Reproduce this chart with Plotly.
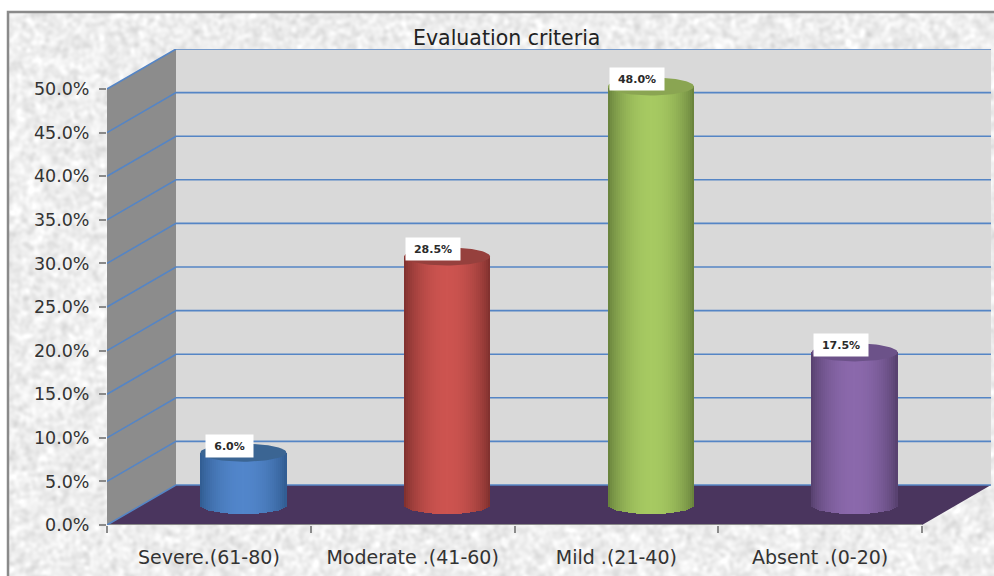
import base64, struct, zlib
import numpy as np
import plotly.graph_objects as go

# ---- data ----
categories = ["Severe.(61-80)", "Moderate .(41-60)", "Mild .(21-40)", "Absent .(0-20)"]
values = [6.0, 28.5, 48.0, 17.5]
value_labels = ["6.0%", "28.5%", "48.0%", "17.5%"]
y_ticks = [0, 5, 10, 15, 20, 25, 30, 35, 40, 45, 50]
y_tick_labels = ["0.0%", "5.0%", "10.0%", "15.0%", "20.0%", "25.0%", "30.0%", "35.0%", "40.0%", "45.0%", "50.0%"]
title_text = "Evaluation criteria"

# ---- styles ----
centre_colors = [(82, 134, 203), (205, 84, 80), (167, 202, 98), (139, 105, 172)]
edge_colors = [(47, 90, 142), (122, 46, 44), (100, 125, 58), (84, 62, 107)]
top_colors = ["#3b6593", "#96403d", "#8aa552", "#6c5289"]
GRID = "#5585c5"
TEXT = "#333333"
W, H = 994, 576
L, R, T, B = 107, 3, 49, 51          # plot area in pixels
XPX = 203.75                         # pixels per category
YPX = 8.72                           # pixels per percent
DX = 69 / XPX                        # depth offset, category units
DY = 40 / YPX                        # depth offset, percent units
RX = 43 / XPX                        # cylinder radius, horizontal
RY = 9 / YPX                         # cylinder radius, vertical
STRIPS = 43

x_range = [-0.5, -0.5 + (W - L - R) / XPX]
y_range = [0, (H - T - B) / YPX]


def texture_png(w, h):
    """Mottled decorative background (no chart data in it)."""
    rng = np.random.default_rng(7)
    n = rng.normal(size=(h, w))
    fy = np.fft.fftfreq(h)[:, None]
    fx = np.fft.rfftfreq(w)[None, :]
    n = np.fft.irfft2(np.fft.rfft2(n) * np.exp(-(fx**2 + fy**2) * 2 * (np.pi * 2.0) ** 2), s=(h, w))
    img = np.clip(238 + n / n.std() * 6.5, 205, 255).astype(np.uint8)
    raw = b"".join(b"\x00" + img[i].tobytes() for i in range(h))

    def chunk(tag, data):
        return struct.pack(">I", len(data)) + tag + data + struct.pack(">I", zlib.crc32(tag + data))

    png = b"\x89PNG\r\n\x1a\n" + chunk(b"IHDR", struct.pack(">IIBBBBB", w, h, 8, 0, 0, 0, 0))
    png += chunk(b"IDAT", zlib.compress(raw, 9)) + chunk(b"IEND", b"")
    return "data:image/png;base64," + base64.b64encode(png).decode()


def px(xp):
    return (xp - L) / (W - L - R)


def py(yp):
    return (H - B - yp) / (H - T - B)


def poly(points):
    return "M " + " L ".join(f"{a},{b}" for a, b in points) + " Z"


x0, x1 = -0.5, 3.5
top = y_ticks[-1]
shapes = [
    dict(type="rect", xref="paper", yref="paper", x0=px(8), x1=px(W + 4), y0=py(12), y1=py(H + 4),
         line=dict(color="#8a8a8a", width=2.5), layer="below"),
    dict(type="path", path=poly([(x0, 0), (x0 + DX, DY), (x0 + DX, top + DY), (x0, top)]),
         fillcolor="#8c8c8c", line=dict(width=0), layer="below"),
    dict(type="path", path=poly([(x0 + DX, DY), (x1 + DX, DY), (x1 + DX, top + DY), (x0 + DX, top + DY)]),
         fillcolor="#d9d9d9", line=dict(width=0), layer="below"),
    dict(type="path", path=poly([(x0, 0), (x1, 0), (x1 + DX, DY), (x0 + DX, DY)]),
         fillcolor="#4a355e", line=dict(width=0), layer="below"),
    dict(type="line", x0=x0, x1=x1, y0=0, y1=0, line=dict(color="#8a8a8a", width=2), layer="below"),
]
for v in y_ticks:
    shapes.append(dict(type="path", path=f"M {x0},{v} L {x0 + DX},{v + DY} L {x1 + DX},{v + DY}",
                       line=dict(color=GRID, width=1.6), layer="below"))

fig = go.Figure()
u = (np.arange(STRIPS) + 0.5) / STRIPS * 2 - 1
front = RY * np.sqrt(1 - u**2)
glow = np.sin(np.pi * (u + 1) / 2) ** 0.7
for i, (cat, val) in enumerate(zip(categories, values)):
    cx = i + DX / 2
    base_y = DY / 2
    rgb = [
        "rgb({},{},{})".format(*[int(e + (c - e) * g) for c, e in zip(centre_colors[i], edge_colors[i])])
        for g in glow
    ]
    fig.add_bar(x=cx + u * RX, y=val + front, base=base_y - front,
                width=2 * RX / STRIPS * 1.15, marker=dict(color=rgb, line=dict(width=0)),
                name=cat, showlegend=False, hoverinfo="skip")
    th = np.linspace(0, 2 * np.pi, 73)
    fig.add_scatter(x=cx + RX * np.cos(th), y=base_y + val + RY * np.sin(th), mode="lines", fill="toself",
                    fillcolor=top_colors[i], line=dict(width=0), showlegend=False, hoverinfo="skip")
    fig.add_annotation(x=cx, y=base_y + val, text=value_labels[i], showarrow=False, xshift=-14, yshift=7,
                       font=dict(family="DejaVu Sans", size=11, color="#2a2a2a", weight="bold"),
                       bgcolor="white", width=45 if len(value_labels[i]) == 4 else 52, height=20)

y_font = dict(family="DejaVu Sans", size=17.5, color=TEXT)
x_font = dict(family="DejaVu Sans", size=19, color=TEXT)
fig.update_layout(
    width=W, height=H, autosize=False,
    margin=dict(l=L, r=R, t=T, b=B, pad=0),
    paper_bgcolor="white", plot_bgcolor="rgba(0,0,0,0)",
    barmode="overlay", bargap=0, showlegend=False,
    shapes=shapes,
    images=[dict(source=texture_png(W - 8, H - 12), xref="paper", yref="paper",
                 x=px(8), y=py(12), sizex=px(W) - px(8), sizey=py(12) - py(H),
                 xanchor="left", yanchor="top", sizing="stretch", layer="below")],
    annotations=list(fig.layout.annotations) + [
        dict(text=title_text, xref="paper", yref="paper", x=px(506), y=py(38), showarrow=False,
             font=dict(family="DejaVu Sans", size=20.5, color="#222222"), xanchor="center", yanchor="middle")
    ],
    xaxis=dict(range=x_range, tickmode="array", tickvals=list(range(len(categories))), ticktext=categories,
               showgrid=False, zeroline=False, showline=False, ticks="", ticklen=0, tickfont=x_font,
               ticklabelstandoff=19, ticklabeloverflow="allow",
               minor=dict(tickmode="array", tickvals=[-0.5, 0.5, 1.5, 2.5, 3.5], ticks="outside",
                          ticklen=7, tickwidth=2, tickcolor="#8a8a8a", showgrid=False)),
    yaxis=dict(range=y_range, tickmode="array", tickvals=y_ticks, ticktext=y_tick_labels,
               showgrid=False, zeroline=False, showline=False, ticks="outside", ticklen=7, tickwidth=2,
               tickcolor="#8a8a8a", tickfont=y_font, ticklabelstandoff=6),
)
fig.write_html("out.html", config={"displayModeBar": False},
               post_script="document.body.style.margin='0';document.body.style.overflow='hidden';")
